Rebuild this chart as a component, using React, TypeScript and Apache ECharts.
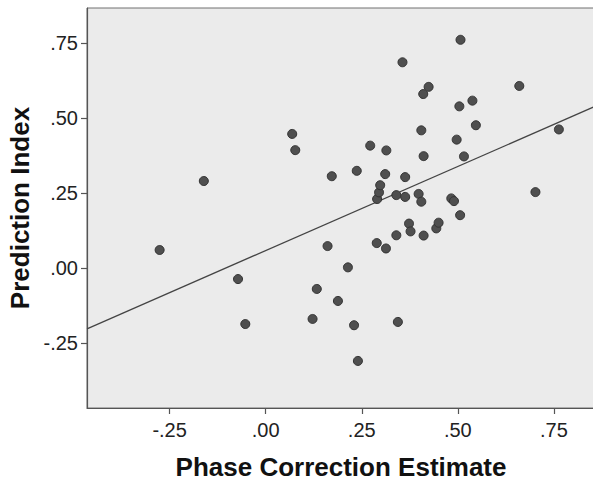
import React, { useEffect, useRef } from "react";
import * as echarts from "echarts";

// Phase Correction Estimate (x) and Prediction Index (y) for each participant
const phaseCorrection: number[] = [
  -0.276, -0.161, -0.072, -0.053, 0.069, 0.077, 0.122, 0.133, 0.161, 0.172,
  0.188, 0.214, 0.23, 0.237, 0.24, 0.272, 0.289, 0.29, 0.295, 0.298,
  0.311, 0.313, 0.314, 0.34, 0.34, 0.344, 0.356, 0.363, 0.363, 0.373,
  0.377, 0.398, 0.405, 0.405, 0.41, 0.411, 0.411, 0.424, 0.444, 0.45,
  0.483, 0.49, 0.497, 0.504, 0.506, 0.507, 0.516, 0.538, 0.547, 0.66,
  0.702, 0.763,
];
const predictionIndex: number[] = [
  0.061, 0.291, -0.036, -0.186, 0.448, 0.394, -0.169, -0.069, 0.074, 0.307,
  -0.109, 0.003, -0.19, 0.325, -0.309, 0.409, 0.084, 0.231, 0.253, 0.277,
  0.314, 0.066, 0.393, 0.244, 0.11, -0.179, 0.687, 0.304, 0.238, 0.149,
  0.123, 0.248, 0.46, 0.222, 0.581, 0.374, 0.109, 0.605, 0.133, 0.152,
  0.233, 0.224, 0.429, 0.54, 0.177, 0.762, 0.373, 0.559, 0.477, 0.608,
  0.254, 0.463,
];
// Linear fit line: y = intercept + slope * x
const fitIntercept = 0.059;
const fitSlope = 0.561;

const xTicks: number[] = [-0.25, 0, 0.25, 0.5, 0.75];
const yTicks: number[] = [-0.25, 0, 0.25, 0.5, 0.75];

const xMin = -0.465;
const xMax = 0.857;
const yMin = -0.466;
const yMax = 0.868;

const fmt = (v: number) => {
  const s = Math.abs(v).toFixed(2).replace(/^0/, "");
  return (v < 0 ? "-" : "") + s;
};

export default function App() {
  const ref = useRef<HTMLDivElement>(null);
  useEffect(() => {
    if (!ref.current) return;
    const chart = echarts.init(ref.current, undefined, { renderer: "svg" });
    const points = phaseCorrection.map((x, i) => [x, predictionIndex[i]]);
    const fit = [
      [xMin, fitIntercept + fitSlope * xMin],
      [xMax, fitIntercept + fitSlope * xMax],
    ];
    const labelStyle = {
      color: "#222",
      fontSize: 20,
      fontFamily: "'Liberation Sans', Arial, sans-serif",
    };
    const nameStyle = {
      color: "#111",
      fontSize: 26,
      fontWeight: "bold" as const,
      fontFamily: "'Liberation Sans', Arial, sans-serif",
    };
    chart.setOption({
      animation: false,
      backgroundColor: "#ffffff",
      grid: {
        left: 87,
        top: 8,
        right: -2,
        bottom: 75,
        show: true,
        backgroundColor: "#ebebeb",
        borderColor: "#707070",
        borderWidth: 1,
        containLabel: false,
        outerBoundsMode: "none",
      },
      xAxis: {
        type: "value",
        min: xMin,
        max: xMax,
        name: "Phase Correction Estimate",
        nameLocation: "middle",
        nameGap: 46,
        nameTextStyle: nameStyle,
        axisLine: {
          show: true,
          onZero: false,
          lineStyle: { color: "#555", width: 1.2 },
        },
        axisTick: {
          show: true,
          length: 6,
          customValues: xTicks,
          lineStyle: { color: "#555", width: 1.2 },
        },
        axisLabel: {
          ...labelStyle,
          margin: 12,
          customValues: xTicks,
          formatter: (v: number) => fmt(v),
        },
        splitLine: { show: false },
      },
      yAxis: {
        type: "value",
        min: yMin,
        max: yMax,
        name: "Prediction Index",
        nameLocation: "middle",
        nameGap: 51,
        nameTextStyle: nameStyle,
        axisLine: {
          show: true,
          onZero: false,
          lineStyle: { color: "#555", width: 1.2 },
        },
        axisTick: {
          show: true,
          length: 6,
          customValues: yTicks,
          lineStyle: { color: "#555", width: 1.2 },
        },
        axisLabel: {
          ...labelStyle,
          margin: 9,
          customValues: yTicks,
          formatter: (v: number) => fmt(v),
        },
        splitLine: { show: false },
      },
      series: [
        {
          type: "line",
          data: fit,
          symbol: "none",
          lineStyle: { color: "#444", width: 1.3 },
          silent: true,
          z: 1,
        },
        {
          type: "scatter",
          data: points,
          symbolSize: 9,
          itemStyle: {
            color: "#4f4f4f",
            borderColor: "#333",
            borderWidth: 1,
            opacity: 1,
          },
          z: 2,
        },
      ],
    });
    return () => chart.dispose();
  }, []);
  return (
    <div
      ref={ref}
      style={{ position: "fixed", left: 0, top: 0, width: 593, height: 483 }}
    />
  );
}
